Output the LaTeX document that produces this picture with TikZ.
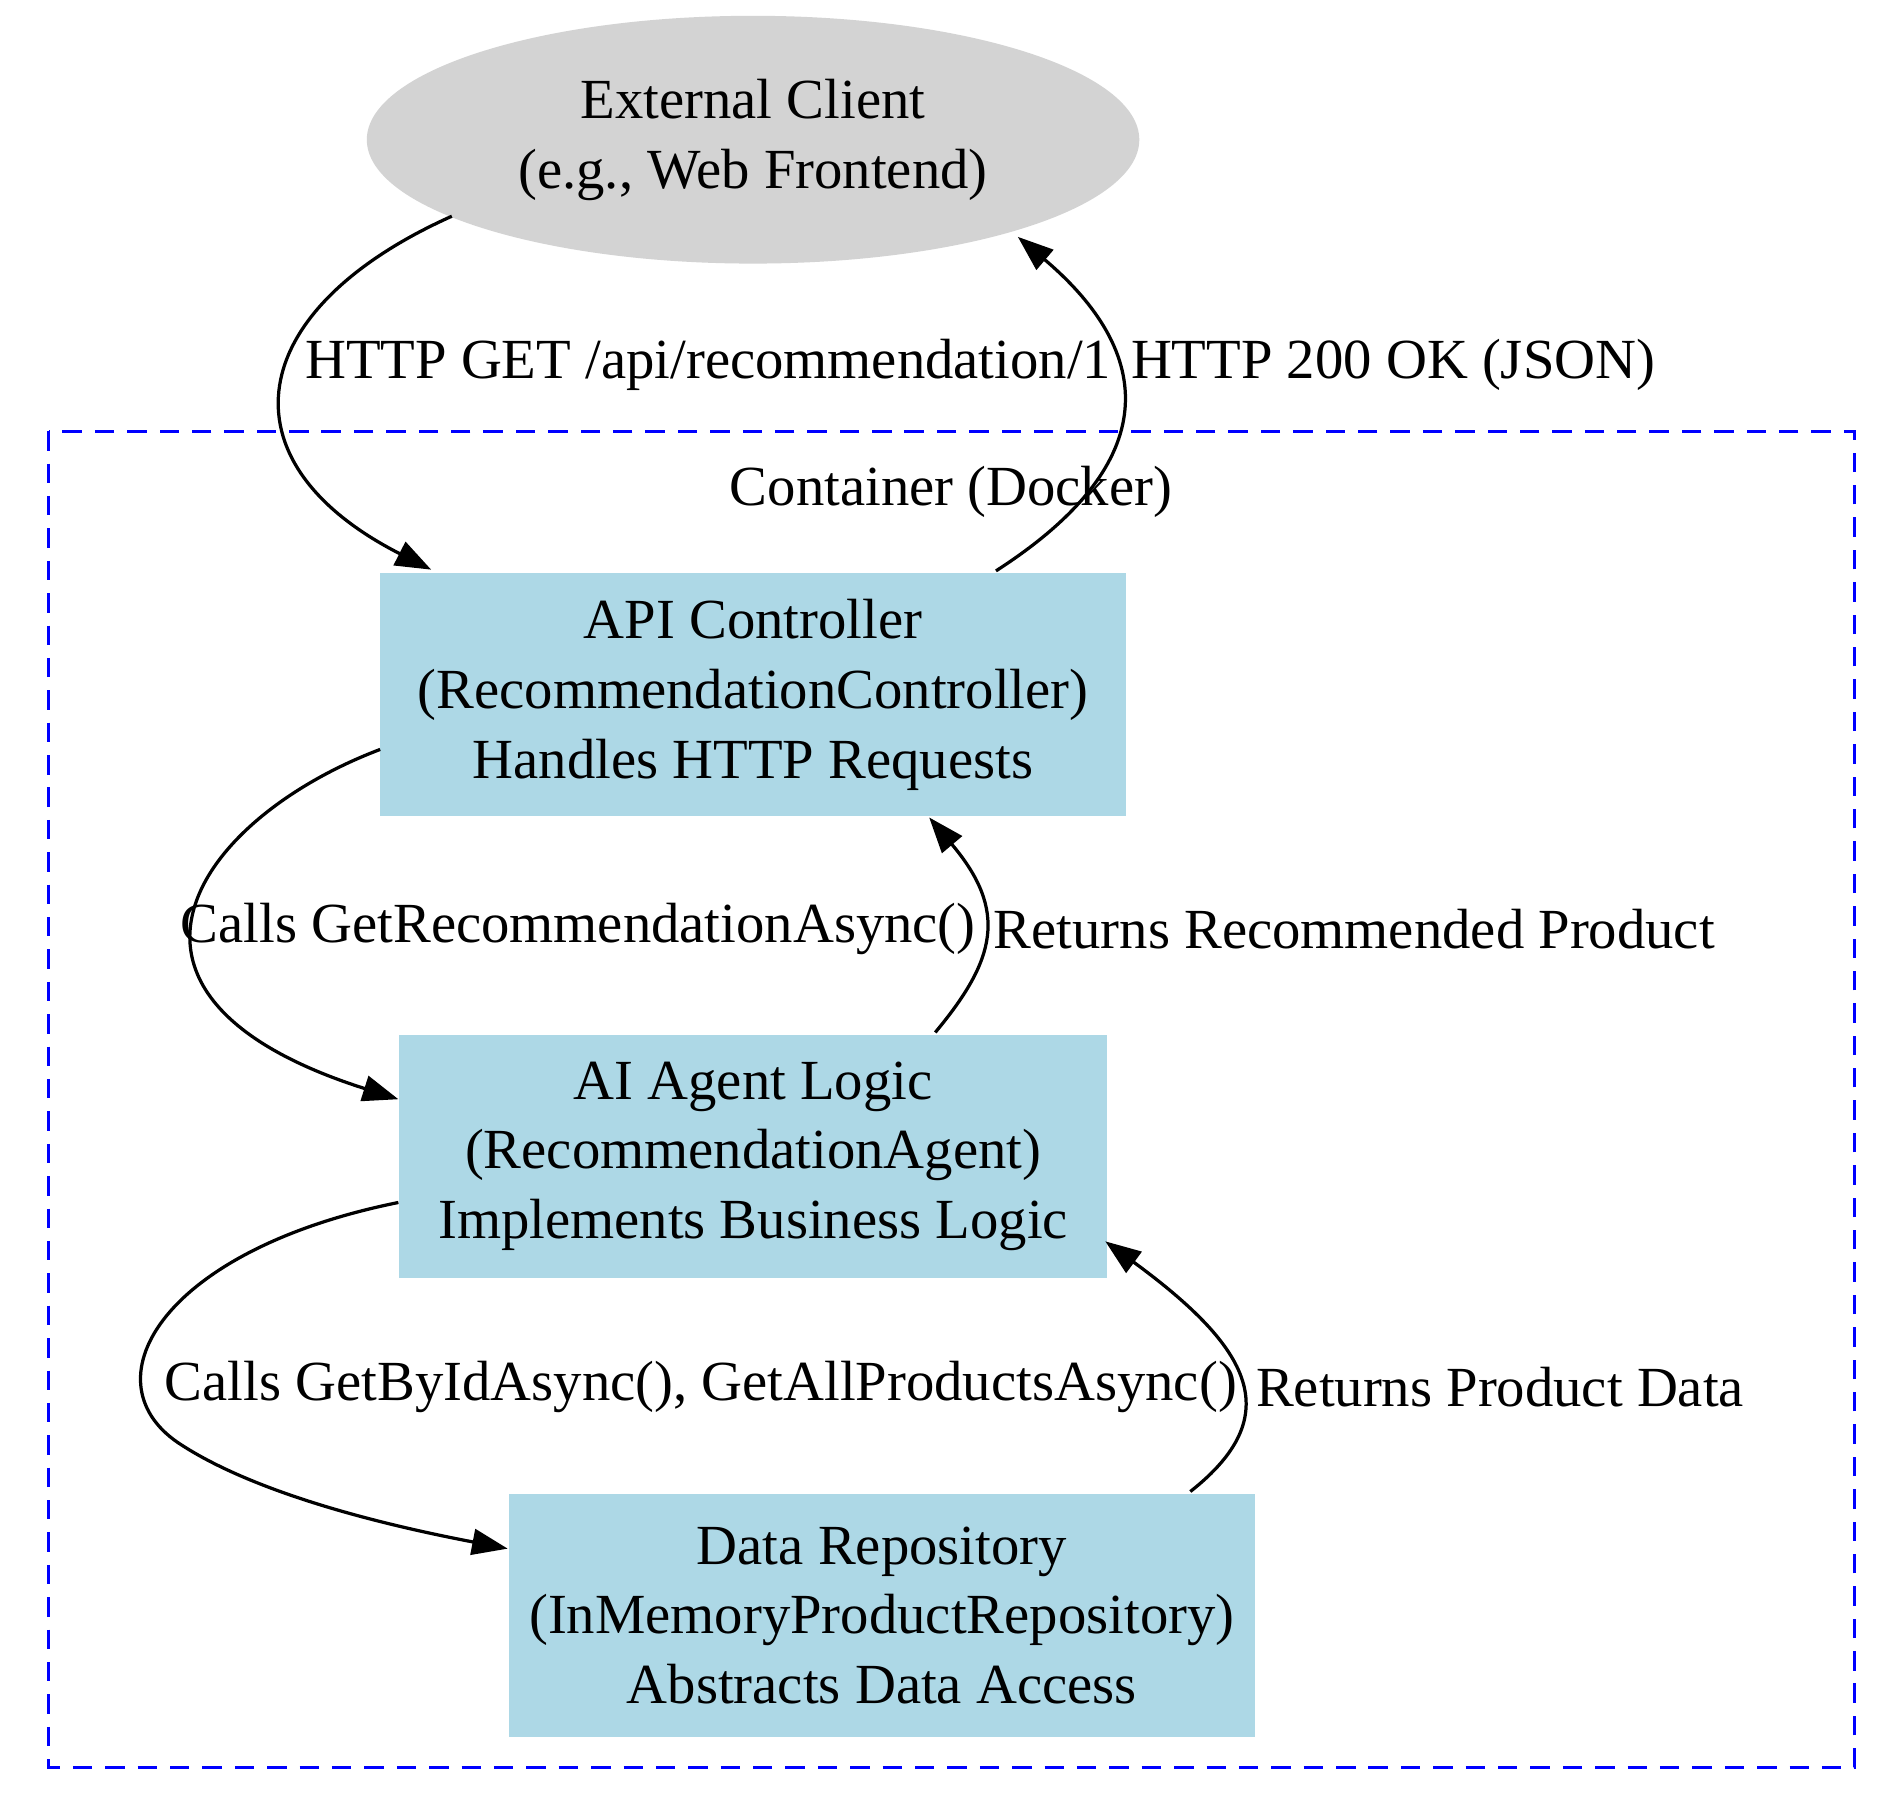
\documentclass[tikz,border=0pt]{standalone}
\usepackage{fontspec}
\setmainfont{Liberation Serif}
\usetikzlibrary{arrows.meta,shapes.geometric}
\definecolor{lb}{RGB}{173,216,230}
\definecolor{lg}{RGB}{211,211,211}
\begin{document}
\begin{tikzpicture}[x=0.75pt,y=-0.75pt,
  every node/.style={font=\fontsize{35}{43}\selectfont,align=center},
  box/.style={draw=none,fill=lb,minimum width=614*0.75pt,minimum height=200*0.75pt,inner sep=0},
  edge/.style={draw,line width=2pt,-{Triangle[length=22pt,width=16pt]}}]
\useasboundingbox (0,0) rectangle (1561,1490);
\draw[blue,line width=2pt,dash pattern=on 12pt off 8pt] (40,355) rectangle (1527,1455);
\node (cl) at (783,405) {Container (Docker)};
\node[ellipse,fill=lg,minimum width=636*0.75pt,minimum height=204*0.75pt,inner sep=0] (ext) at (620,115) {External Client\\(e.g., Web Frontend)};
\node[box] (api) at (620,572) {API Controller\\(RecommendationController)\\Handles HTTP Requests};
\node[box,minimum width=583*0.75pt] (ai) at (620,952) {AI Agent Logic\\(RecommendationAgent)\\Implements Business Logic};
\node[box] (dr) at (726,1330) {Data Repository\\(InMemoryProductRepository)\\Abstracts Data Access};
\coordinate (e1) at (372,178);
\coordinate (a1) at (355,469);
\draw[edge] (e1) .. controls (200,255) and (180,380) .. (a1);
\node (l1) at (583,300) {HTTP GET /api/recommendation/1};
\coordinate (a2) at (820,470);
\coordinate (e2) at (838,195);
\draw[edge] (a2) .. controls (960,380) and (950,290) .. (e2);
\node (l2) at (1147,300) {HTTP 200 OK (JSON)};
\coordinate (a3) at (313,617);
\coordinate (b3) at (328,905);
\draw[edge] (a3) .. controls (160,675) and (60,820) .. (b3);
\node (l3) at (476,765) {Calls GetRecommendationAsync()};
\coordinate (b4) at (770,850);
\coordinate (a4) at (765,673);
\draw[edge] (b4) .. controls (820,790) and (830,750) .. (a4);
\node (l4) at (1115,765) {Returns Recommended Product};
\coordinate (b5) at (328,990);
\coordinate (d5) at (418,1275);
\draw[edge] (b5) .. controls (130,1030) and (70,1140) .. (150,1190) .. controls (220,1235) and (340,1260) .. (d5);
\node (l5) at (577,1142) {Calls GetByIdAsync(), GetAllProductsAsync()};
\coordinate (d6) at (980,1228);
\coordinate (b6) at (910,1022);
\draw[edge] (d6) .. controls (1060,1165) and (1030,1110) .. (b6);
\node (l6) at (1235,1142) {Returns Product Data};
\end{tikzpicture}
\end{document}
